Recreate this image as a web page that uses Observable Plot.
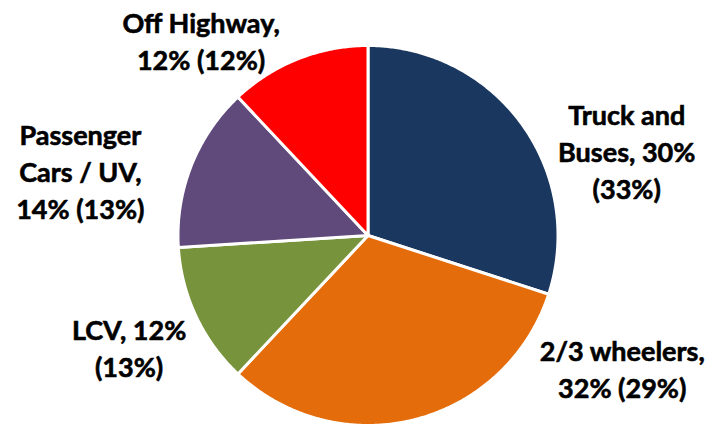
<!DOCTYPE html>
<html><head><meta charset="utf-8">
<script src="https://cdn.jsdelivr.net/npm/d3@7"></script>
<script src="https://cdn.jsdelivr.net/npm/@observablehq/plot@0.6"></script>
<style>html,body{margin:0;padding:0;background:#fff}</style>
</head><body><div id="chart"></div>
<script>
// Data
const segments = ["Truck and Buses", "2/3 wheelers", "LCV", "Passenger Cars / UV", "Off Highway"];
const shares = [30, 32, 12, 14, 12];
const priorShares = [33, 29, 13, 13, 12];
const labelTexts = ["Truck and\nBuses, 30%\n(33%)", "2/3 wheelers,\n32% (29%)", "LCV, 12%\n(13%)", "Passenger\nCars / UV,\n14% (13%)", "Off Highway,\n12% (12%)"];
const colors = ["#1A375F", "#E46C0A", "#77933C", "#604A7B", "#FF0000"];
// Layout (label offsets in px from slice outer midpoint)
const labelOffsets = [[105, 26], [207, -52], [-67, 30], [-111, 5], [-97, -19]];
const W = 709, H = 425, cx = 367.5, cy = 235, R = 190;

const arcs = d3.pie().sort(null).value(d => d)(shares);
const points = [];
arcs.forEach((a, i) => {
  const name = segments[i];
  points.push({name, x: 0, y: 0});
  const steps = Math.max(2, Math.ceil((a.endAngle - a.startAngle) / (Math.PI / 360)));
  for (let k = 0; k <= steps; k++) {
    const t = a.startAngle + (a.endAngle - a.startAngle) * k / steps;
    points.push({name, x: Math.sin(t), y: Math.cos(t)});
  }
  points.push({name, x: 0, y: 0});
});
const labels = arcs.map((a, i) => {
  const m = (a.startAngle + a.endAngle) / 2;
  return {ex: Math.sin(m), ey: Math.cos(m), text: labelTexts[i], dx: labelOffsets[i][0], dy: labelOffsets[i][1]};
});

const chart = Plot.plot({
  width: W, height: H, margin: 0,
  style: {fontFamily: "Lato", background: "white"},
  x: {domain: [-1, 1], range: [cx - R, cx + R], axis: null},
  y: {domain: [-1, 1], range: [cy + R, cy - R], axis: null},
  color: {domain: segments, range: colors},
  marks: [
    Plot.line(points, {x: "x", y: "y", z: "name", fill: "name", stroke: "white", strokeWidth: 3, strokeLinejoin: "round", curve: "linear"}),
    ...labels.map(d => Plot.text([d], {x: "ex", y: "ey", text: "text", dx: d.dx, dy: d.dy, fontSize: 27, fontWeight: "bold", fontFamily: "Lato", lineHeight: 1.37, fill: "black", stroke: "black", strokeWidth: 0.6, textAnchor: "middle"}))
  ]
});
document.getElementById("chart").appendChild(chart);
</script>
</body></html>
